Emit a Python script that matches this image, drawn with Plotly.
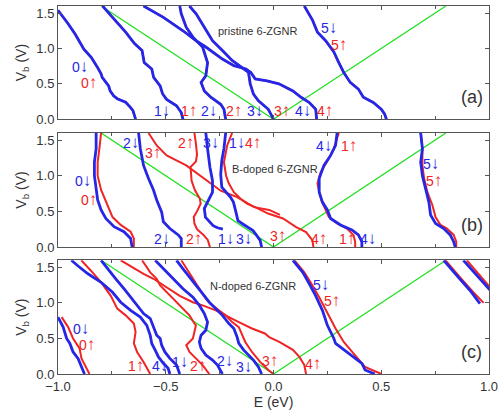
import plotly.graph_objects as go

# ---------------- data (E in eV vs bias Vb in V) ----------------
# panel (a) pristine 6-ZGNR (spin up and down degenerate)
a0_V = [0, 0.12, 0.17, 0.24, 0.29, 0.33, 0.40, 0.47, 0.59, 0.64, 0.75, 0.875, 0.99, 1.2, 1.35, 1.54]
a0_E = [-0.64, -0.652, -0.665, -0.686, -0.725, -0.742, -0.758, -0.765, -0.795, -0.80, -0.82, -0.846, -0.88, -0.92, -0.953, -1.0]
a1_V = [0, 0.094, 0.19, 0.28, 0.36, 0.43, 0.47, 0.59, 0.71, 0.80, 0.97, 1.07, 1.23, 1.44, 1.6]
a1_E = [-0.42, -0.428, -0.45, -0.496, -0.515, -0.522, -0.526, -0.556, -0.565, -0.60, -0.61, -0.645, -0.686, -0.747, -0.793]
a2_V = [0, 0.14, 0.21, 0.31, 0.40, 0.52, 0.615, 0.80, 1.02, 1.16, 1.30, 1.49, 1.6]
a2_E = [-0.222, -0.23, -0.245, -0.291, -0.321, -0.336, -0.314, -0.306, -0.329, -0.374, -0.405, -0.428, -0.435]
a3_V = [0, 0.14, 0.26, 0.355, 0.50, 0.66, 0.73, 0.83, 0.97, 1.11, 1.30, 1.49, 1.6]
a3_E = [0.0, -0.024, -0.07, -0.093, -0.108, -0.116, -0.146, -0.192, -0.237, -0.283, -0.321, -0.359, -0.39]
a4_V = [0, 0.14, 0.236, 0.31, 0.40, 0.50, 0.54, 0.57, 0.66, 0.71, 0.757, 0.85, 1.02, 1.11, 1.25, 1.44, 1.6]
a4_E = [0.2, 0.196, 0.166, 0.128, 0.09, 0.025, -0.03, -0.085, -0.105, -0.128, -0.184, -0.237, -0.314, -0.36, -0.42, -0.511, -0.603]
a5_V = [0, 0.07, 0.14, 0.236, 0.31, 0.426, 0.52, 0.66, 0.80, 0.95, 1.11, 1.23, 1.40, 1.6]
a5_E = [0.524, 0.516, 0.50, 0.463, 0.417, 0.394, 0.356, 0.326, 0.303, 0.28, 0.242, 0.204, 0.181, 0.143]

# panel (b) B-doped 6-ZGNR
b0d_V = [0, 0.12, 0.215, 0.285, 0.40, 0.52, 0.66, 0.82, 1.0, 1.19, 1.38, 1.6]
b0d_E = [-0.656, -0.663, -0.694, -0.74, -0.778, -0.80, -0.816, -0.823, -0.831, -0.831, -0.823, -0.823]
b0u_V = [0, 0.12, 0.215, 0.31, 0.42, 0.54, 0.68, 0.80, 1.0, 1.19, 1.38, 1.6]
b0u_E = [-0.648, -0.648, -0.663, -0.709, -0.747, -0.763, -0.785, -0.80, -0.816, -0.816, -0.808, -0.80]
b2d_V = [0, 0.12, 0.17, 0.26, 0.355, 0.49, 0.66, 0.80, 0.96, 1.145, 1.38, 1.6]
b2d_E = [-0.428, -0.428, -0.442, -0.481, -0.511, -0.519, -0.542, -0.557, -0.58, -0.603, -0.618, -0.626]
b3u_V = [0.45, 0.52, 0.56, 0.70, 0.79, 1.0, 1.145, 1.285, 1.425, 1.6]
b3u_E = [0.03, -0.02, -0.09, -0.169, -0.245, -0.34, -0.405, -0.496, -0.542, -0.58]
b4u_V = [0, 0.094, 0.21, 0.28, 0.40, 0.47, 0.56, 0.61, 0.68, 0.77, 0.89, 1.0, 1.19, 1.425, 1.6]
b4u_E = [0.185, 0.181, 0.151, 0.105, 0.044, -0.025, -0.085, -0.123, -0.154, -0.184, -0.207, -0.22, -0.23, -0.215, -0.192]
b2u_V = [0, 0.10, 0.17, 0.25, 0.33, 0.42, 0.50, 0.61, 0.68, 0.80, 0.93, 1.12, 1.20, 1.30, 1.45, 1.6]
b2u_E = [-0.295, -0.305, -0.325, -0.355, -0.367, -0.37, -0.355, -0.338, -0.342, -0.365, -0.38, -0.385, -0.36, -0.355, -0.36, -0.367]
b1d_V = [0.25, 0.27, 0.30, 0.35, 0.42, 0.54, 0.65, 0.77, 0.93, 1.12, 1.38, 1.6]
b1d_E = [-0.235, -0.26, -0.28, -0.295, -0.316, -0.321, -0.303, -0.283, -0.283, -0.295, -0.306, -0.314]
b3d_V = [0, 0.094, 0.17, 0.23, 0.33, 0.37, 0.51, 0.63, 0.70, 0.84, 1.02, 1.21, 1.38, 1.6]
b3d_E = [-0.055, -0.062, -0.08, -0.095, -0.146, -0.165, -0.176, -0.186, -0.2, -0.24, -0.245, -0.24, -0.23, -0.222]
b4d_V = [0, 0.075, 0.17, 0.24, 0.31, 0.40, 0.52, 0.63, 0.77, 0.96, 1.145, 1.285, 1.425, 1.6]
b4d_E = [0.41, 0.41, 0.394, 0.364, 0.311, 0.265, 0.25, 0.227, 0.212, 0.212, 0.234, 0.265, 0.288, 0.295]
b1u_V = [0, 0.075, 0.17, 0.26, 0.33, 0.42, 0.52, 0.63, 0.77, 0.89, 1.05, 1.24, 1.38, 1.6]
b1u_E = [0.379, 0.379, 0.371, 0.341, 0.295, 0.257, 0.242, 0.225, 0.212, 0.204, 0.219, 0.257, 0.28, 0.303]
b5d_V = [0, 0.075, 0.17, 0.26, 0.33, 0.45, 0.63, 0.82, 1.0, 1.19, 1.38, 1.6]
b5d_E = [0.843, 0.836, 0.82, 0.79, 0.752, 0.729, 0.721, 0.706, 0.691, 0.683, 0.691, 0.683]
b5u_V = [0, 0.075, 0.17, 0.26, 0.31, 0.42, 0.59, 0.77, 0.96, 1.145, 1.38, 1.6]
b5u_E = [0.848, 0.848, 0.836, 0.805, 0.775, 0.752, 0.737, 0.714, 0.699, 0.691, 0.691, 0.683]

# panel (c) N-doped 6-ZGNR
c0d_V = [0, 0.10, 0.22, 0.31, 0.43, 0.50, 0.66, 0.80]
c0d_E = [-0.877, -0.891, -0.907, -0.93, -0.945, -0.96, -0.976, -1.0]
c0u_V = [0, 0.08, 0.22, 0.36, 0.50, 0.66, 0.80]
c0u_E = [-0.854, -0.868, -0.891, -0.90, -0.93, -0.953, -0.983]
c1u_V = [0, 0.17, 0.31, 0.43, 0.59, 0.71, 0.825, 0.92, 1.10, 1.29, 1.45, 1.6]
c1u_E = [-0.572, -0.603, -0.633, -0.648, -0.64, -0.648, -0.686, -0.725, -0.755, -0.80, -0.846, -0.892]
c4d_V = [0, 0.08, 0.15, 0.24, 0.336, 0.43, 0.545, 0.685, 0.80, 0.895, 1.01, 1.15, 1.29, 1.41, 1.52, 1.6]
c4d_E = [-0.481, -0.489, -0.511, -0.534, -0.549, -0.565, -0.572, -0.588, -0.618, -0.663, -0.709, -0.747, -0.80, -0.861, -0.907, -0.938]
c1d_V = [0, 0.126, 0.22, 0.31, 0.405, 0.50, 0.545, 0.66, 0.78, 0.85, 0.94, 1.06, 1.20, 1.34, 1.48, 1.6]
c1d_E = [-0.435, -0.45, -0.481, -0.504, -0.519, -0.526, -0.542, -0.557, -0.572, -0.603, -0.626, -0.656, -0.694, -0.732, -0.77, -0.80]
c4u_V = [0, 0.126, 0.24, 0.34, 0.45, 0.52, 0.57, 0.64, 0.73, 0.895, 0.965, 1.01, 1.10, 1.245, 1.34, 1.41, 1.52, 1.6]
c4u_E = [0.151, 0.143, 0.12, 0.09, 0.029, -0.02, -0.04, -0.10, -0.161, -0.268, -0.329, -0.374, -0.435, -0.511, -0.557, -0.603, -0.663, -0.709]
c2u_V = [0, 0.126, 0.22, 0.31, 0.405, 0.50, 0.685, 0.71, 0.825, 0.92, 1.01, 1.15, 1.245, 1.34, 1.43, 1.6]
c2u_E = [-0.298, -0.329, -0.36, -0.39, -0.405, -0.374, -0.36, -0.367, -0.39, -0.42, -0.45, -0.496, -0.526, -0.542, -0.572, -0.61]
c2d_V = [0, 0.126, 0.196, 0.266, 0.36, 0.45, 0.545, 0.615, 0.73, 0.85, 0.965, 1.08, 1.20, 1.34, 1.48, 1.6]
c2d_E = [-0.237, -0.26, -0.283, -0.314, -0.336, -0.344, -0.336, -0.314, -0.306, -0.321, -0.344, -0.374, -0.42, -0.466, -0.511, -0.549]
c3d_V = [0, 0.10, 0.196, 0.266, 0.336, 0.43, 0.52, 0.64, 0.71, 0.825, 0.92, 1.01, 1.13, 1.245, 1.36, 1.48, 1.6]
c3d_E = [-0.055, -0.07, -0.093, -0.116, -0.138, -0.161, -0.169, -0.184, -0.207, -0.237, -0.268, -0.298, -0.329, -0.36, -0.39, -0.42, -0.45]
c3u_V = [0, 0.056, 0.17, 0.31, 0.45, 0.545, 0.66, 0.73, 0.825, 0.895, 0.965, 1.06, 1.20, 1.34, 1.48, 1.6]
c3u_E = [0.0, -0.024, -0.062, -0.10, -0.131, -0.146, -0.161, -0.192, -0.222, -0.253, -0.283, -0.314, -0.344, -0.374, -0.405, -0.428]
c5d_V = [0, 0.056, 0.15, 0.29, 0.43, 0.50, 0.685, 0.895, 1.10, 1.27, 1.43, 1.6]
c5d_E = [0.47, 0.425, 0.41, 0.348, 0.288, 0.28, 0.25, 0.227, 0.196, 0.166, 0.136, 0.09]
c5u_V = [0, 0.10, 0.29, 0.45, 0.64, 0.87, 1.08, 1.245, 1.43, 1.6]
c5u_E = [0.50, 0.425, 0.371, 0.326, 0.288, 0.25, 0.212, 0.181, 0.143, 0.097]
c6d_V = [0.99, 1.175, 1.385, 1.6]
c6d_E = [0.958, 0.912, 0.851, 0.79]
c6u_V = [1.0, 1.15, 1.36, 1.6]
c6u_E = [0.975, 0.927, 0.866, 0.798]
c7d_V = [1.18, 1.4, 1.6]
c7d_E = [1.005, 0.94, 0.881]
c7u_V = [1.22, 1.6]
c7u_E = [1.005, 0.897]

# bias window (green)
win_E = [-0.8, 0.0, 0.8]
win_V = [1.6, 0.0, 1.6]

# level labels: (level, E, V, spin)
a_labels = [("0", -0.90, 0.745, "d"), ("0", -0.858, 0.52, "u"),
            ("1", -0.519, 0.12, "d"), ("1", -0.39, 0.12, "u"),
            ("2", -0.298, 0.12, "d"), ("2", -0.181, 0.12, "u"),
            ("3", -0.085, 0.12, "d"), ("3", 0.041, 0.12, "u"),
            ("4", 0.138, 0.12, "d"), ("4", 0.239, 0.12, "u"),
            ("5", 0.257, 1.29, "d"), ("5", 0.306, 1.06, "u")]
b_labels = [("0", -0.885, 0.93, "d"), ("0", -0.858, 0.66, "u"),
            ("2", -0.663, 1.47, "d"), ("3", -0.557, 1.33, "u"),
            ("2", -0.405, 1.47, "u"), ("3", -0.291, 1.47, "d"),
            ("1", -0.168, 1.47, "d"), ("4", -0.097, 1.47, "u"),
            ("4", 0.235, 1.42, "d"), ("1", 0.349, 1.42, "u"),
            ("5", 0.729, 1.175, "d"), ("5", 0.747, 0.93, "u"),
            ("2", -0.519, 0.12, "d"), ("2", -0.371, 0.12, "u"),
            ("1", -0.219, 0.12, "d"), ("3", -0.138, 0.12, "d"),
            ("3", 0.021, 0.16, "u"), ("4", 0.212, 0.12, "u"),
            ("1", 0.341, 0.12, "u"), ("4", 0.44, 0.12, "d")]
c_labels = [("0", -0.892, 0.64, "d"), ("0", -0.866, 0.42, "u"),
            ("1", -0.64, 0.126, "u"), ("4", -0.526, 0.126, "d"),
            ("1", -0.435, 0.17, "d"), ("2", -0.352, 0.126, "u"),
            ("2", -0.225, 0.196, "d"), ("3", -0.138, 0.10, "d"),
            ("3", -0.017, 0.196, "u"), ("4", 0.181, 0.15, "u"),
            ("5", 0.219, 1.255, "d"), ("5", 0.272, 1.03, "u")]

# ---------------- styling ----------------
BLUE = "#2626e6"
RED = "#f02424"
GREEN = "#22e022"
FONT = "Liberation Sans, Arial, sans-serif"

panels = [
    dict(xa="x", ya="y",
         red=[(a0_V, a0_E), (a1_V, a1_E), (a2_V, a2_E), (a3_V, a3_E), (a4_V, a4_E), (a5_V, a5_E)],
         blue=[(a0_V, a0_E), (a1_V, a1_E), (a2_V, a2_E), (a3_V, a3_E), (a4_V, a4_E), (a5_V, a5_E)],
         labels=a_labels, name="pristine 6-ZGNR", name_pos=(-0.07, 1.25), tag="(a)"),
    dict(xa="x2", ya="y2",
         red=[(b0u_V, b0u_E), (b3u_V, b3u_E), (b4u_V, b4u_E), (b2u_V, b2u_E), (b1u_V, b1u_E), (b5u_V, b5u_E)],
         blue=[(b0d_V, b0d_E), (b2d_V, b2d_E), (b1d_V, b1d_E), (b3d_V, b3d_E), (b4d_V, b4d_E), (b5d_V, b5d_E)],
         labels=b_labels, name="B-doped 6-ZGNR", name_pos=(0.006, 1.09), tag="(b)"),
    dict(xa="x3", ya="y3",
         red=[(c0u_V, c0u_E), (c1u_V, c1u_E), (c4u_V, c4u_E), (c2u_V, c2u_E), (c3u_V, c3u_E),
              (c5u_V, c5u_E), (c6u_V, c6u_E), (c7u_V, c7u_E)],
         blue=[(c0d_V, c0d_E), (c4d_V, c4d_E), (c1d_V, c1d_E), (c2d_V, c2d_E), (c3d_V, c3d_E),
               (c5d_V, c5d_E), (c6d_V, c6d_E), (c7d_V, c7d_E)],
         labels=c_labels, name="N-doped 6-ZGNR", name_pos=(-0.093, 1.245), tag="(c)"),
]

fig = go.Figure()
annotations = []
for p in panels:
    fig.add_trace(go.Scatter(x=win_E, y=win_V, mode="lines", xaxis=p["xa"], yaxis=p["ya"],
                             line=dict(color=GREEN, width=1.3), showlegend=False, hoverinfo="skip"))
    for V, E in p["red"]:
        fig.add_trace(go.Scatter(x=E, y=V, mode="lines", xaxis=p["xa"], yaxis=p["ya"],
                                 line=dict(color=RED, width=2), showlegend=False))
    for V, E in p["blue"]:
        fig.add_trace(go.Scatter(x=E, y=V, mode="lines", xaxis=p["xa"], yaxis=p["ya"],
                                 line=dict(color=BLUE, width=2.8), showlegend=False))
    for lvl, e, v, s in p["labels"]:
        arrow = "↓" if s == "d" else "↑"
        txt = lvl + "<span style='font-size:17px'>" + arrow + "</span>"
        annotations.append(dict(text=txt, x=e, y=v, xref=p["xa"], yref=p["ya"], showarrow=False,
                                font=dict(family=FONT, size=14, color=BLUE if s == "d" else RED)))
    annotations.append(dict(text=p["name"], x=p["name_pos"][0], y=p["name_pos"][1],
                            xref=p["xa"], yref=p["ya"], showarrow=False,
                            font=dict(family=FONT, size=11, color="#333333")))
    annotations.append(dict(text=p["tag"], x=0.92, y=0.31, xref=p["xa"], yref=p["ya"],
                            showarrow=False, font=dict(family=FONT, size=18, color="#333333")))

axis_common = dict(showline=True, linecolor="#555555", linewidth=1, mirror="ticks",
                   ticks="inside", ticklen=4, tickcolor="#555555", showgrid=False, zeroline=False,
                   tickfont=dict(family=FONT, size=13, color="#333333"))
xcommon = dict(axis_common, range=[-1.0, 1.0], tickmode="linear", tick0=-1.0, dtick=0.5,
               tickformat=".1f", ticklabeloverflow="allow",
               minor=dict(dtick=0.25, ticks="inside", ticklen=3, tickcolor="#555555"))
ycommon = dict(axis_common, range=[0, 1.6], tickmode="linear", tick0=0, dtick=0.5, tickformat=".1f",
               title=dict(text="V<sub>b</sub> (V)", font=dict(family=FONT, size=14, color="#333333"),
                          standoff=6))

fig.update_layout(
    width=503, height=417,
    margin=dict(l=58, r=7, t=5, b=43),
    paper_bgcolor="white", plot_bgcolor="white",
    xaxis=dict(xcommon, domain=[0, 1], anchor="y", showticklabels=False),
    yaxis=dict(ycommon, domain=[0.6924, 1.0], anchor="x"),
    xaxis2=dict(xcommon, domain=[0, 1], anchor="y2", showticklabels=False),
    yaxis2=dict(ycommon, domain=[0.345, 0.655], anchor="x2"),
    xaxis3=dict(xcommon, domain=[0, 1], anchor="y3",
                title=dict(text="E (eV)", font=dict(family=FONT, size=14, color="#333333"), standoff=4)),
    yaxis3=dict(ycommon, domain=[0.0, 0.309], anchor="x3"),
    annotations=annotations,
    showlegend=False,
)

fig.write_html("out.html")
